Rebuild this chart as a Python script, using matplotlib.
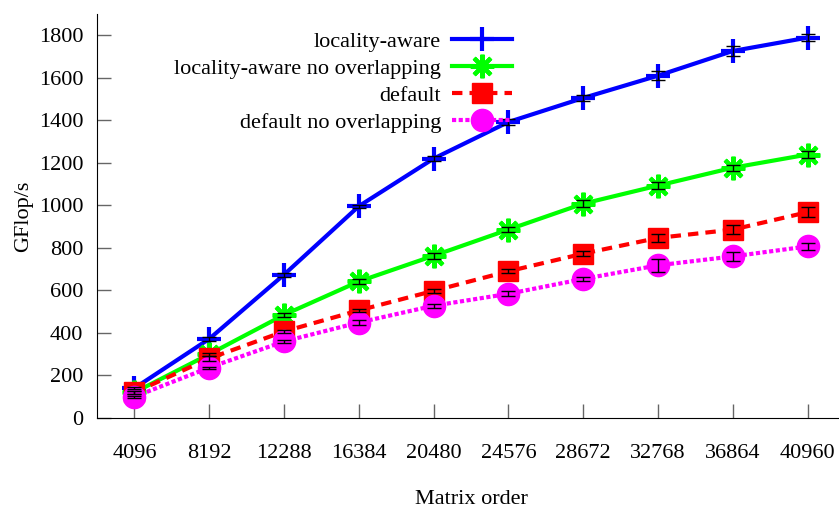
import numpy as np
import matplotlib.pyplot as plt

plt.rcParams['font.family'] = ['Liberation Serif', 'DejaVu Serif']

orders = [4096, 8192, 12288, 16384, 20480, 24576, 28672, 32768, 36864, 40960]

aware = [140, 372, 674, 996, 1220, 1392, 1505, 1610, 1726, 1789]
aware_err = [5, 8, 10, 8, 10, 15, 15, 20, 25, 15]
aware_noov = [120, 300, 485, 642, 763, 886, 1008, 1093, 1177, 1239]
aware_noov_err = [5, 8, 10, 10, 15, 12, 15, 15, 15, 15]
default = [120, 280, 407, 506, 598, 690, 773, 847, 886, 968]
default_err = [5, 10, 8, 6, 8, 10, 12, 20, 20, 25]
default_noov = [100, 237, 360, 449, 528, 584, 654, 718, 760, 807]
default_noov_err = [5, 5, 8, 10, 10, 12, 10, 30, 20, 15]

fig = plt.figure(figsize=(8.39, 5.09), dpi=100)
ax = fig.add_axes([97/839, 91/509, 748/839, 404/509])

series = [
    (aware, aware_err, 'locality-aware', '#0000ff', '-', '+', 17, 3),
    (aware_noov, aware_noov_err, 'locality-aware no overlapping', '#00ff00', '-', (8, 2, 0), 17, 3),
    (default, default_err, 'default', '#ff0000', (0, (2.5, 1.7)), 's', 14, 1),
    (default_noov, default_noov_err, 'default no overlapping', '#ff00ff', (0, (1.0, 0.6)), 'o', 16, 1),
]

for vals, err, lab, col, ls, mk, ms, mew in series:
    ax.plot(orders, vals, color=col, ls=ls, lw=3, marker=mk, ms=ms, mew=mew,
            mec=col, mfc=col, label=lab)

for vals, err, lab, col, ls, mk, ms, mew in series:
    ax.errorbar(orders, vals, yerr=err, fmt='none', ecolor='black', elinewidth=1,
                capsize=5, capthick=1, zorder=5)

ax.set_xlim(2048, 43008)
ax.set_ylim(0, 1900)
ax.set_xticks(orders)
ax.set_xticklabels([str(o) for o in orders])
ax.set_yticks(np.arange(0, 1801, 200))

for s in ['top', 'right']:
    ax.spines[s].set_visible(False)
ax.tick_params(axis='both', direction='in', length=10, width=1, color='#666666', labelsize=16)
ax.tick_params(axis='x', pad=19)
ax.tick_params(axis='y', pad=10)

ax.set_xlabel('Matrix order', fontsize=16, labelpad=19)
ax.set_ylabel('GFlop/s', fontsize=16, labelpad=4)

leg = ax.legend(loc='upper right', bbox_to_anchor=(0.555, 0.958), frameon=False,
                markerfirst=False, fontsize=16, handlelength=2.7, numpoints=1,
                borderaxespad=0, borderpad=0, labelspacing=0.3, handletextpad=0.5)

fig.savefig('out.png', dpi=100)
